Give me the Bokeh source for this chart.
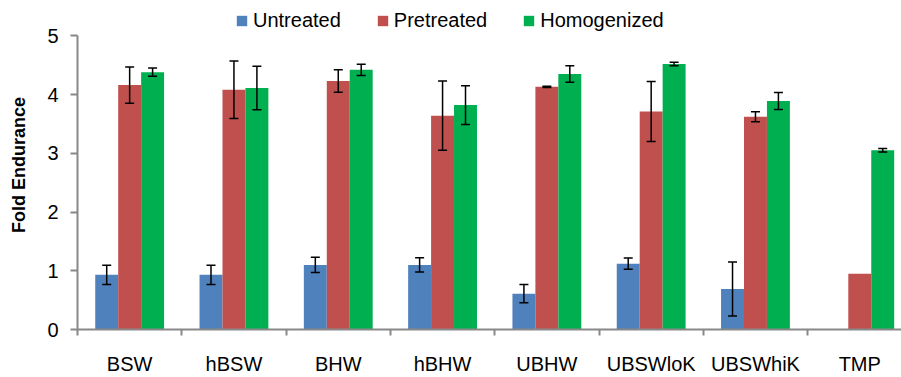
from bokeh.plotting import figure
from bokeh.models import (ColumnDataSource, Range1d, FixedTicker, Legend, LegendItem,
                          Whisker, TeeHead)
from bokeh.transform import dodge
from bokeh.embed import file_html
from bokeh.resources import INLINE

categories = ["BSW", "hBSW", "BHW", "hBHW", "UBHW", "UBSWloK", "UBSWhiK", "TMP"]
series_names = ["Untreated", "Pretreated", "Homogenized"]
untreated = [0.93, 0.93, 1.10, 1.10, 0.61, 1.12, 0.69, 0.0]
untreated_err = [0.165, 0.165, 0.13, 0.12, 0.155, 0.095, 0.46, 0.0]
pretreated = [4.16, 4.08, 4.23, 3.64, 4.13, 3.71, 3.62, 0.95]
pretreated_err = [0.31, 0.49, 0.19, 0.59, 0.01, 0.51, 0.085, 0.0]
homogenized = [4.38, 4.11, 4.42, 3.82, 4.35, 4.52, 3.89, 3.05]
homogenized_err = [0.07, 0.37, 0.095, 0.33, 0.14, 0.03, 0.145, 0.03]
y_ticks = [0, 1, 2, 3, 4, 5]

colors = ["#4F81BD", "#C0504D", "#00B050"]
FONT = "Liberation Sans"
AXIS_COLOR = "#888888"

centers = [i + 0.5 for i in range(len(categories))]

# frame spans from the very top of the canvas; the y axis line is bounded to 0..5
p = figure(width=901, height=377, output_backend="svg", toolbar_location=None,
           x_range=Range1d(0, 7.9), y_range=Range1d(0, 5.6),
           min_border_left=77, min_border_right=0, min_border_top=0,
           min_border_bottom=46)
p.outline_line_color = None
p.xgrid.grid_line_color = None
p.ygrid.grid_line_color = None
p.background_fill_color = "white"
p.border_fill_color = "white"

offsets = [-0.22, 0.0, 0.22]
vals = [untreated, pretreated, homogenized]
errs = [untreated_err, pretreated_err, homogenized_err]
items = []
for name, v, e, off, c in zip(series_names, vals, errs, offsets, colors):
    src = ColumnDataSource(dict(x=centers, top=v))
    r = p.vbar(x=dodge("x", off, range=p.x_range), top="top", width=0.22,
               source=src, fill_color=c, line_color=None)
    items.append(LegendItem(label=name, renderers=[r]))
    xs, lo, hi = [], [], []
    for cx, vv, ee in zip(centers, v, e):
        if ee > 0:
            xs.append(cx + off)
            lo.append(vv - ee)
            hi.append(vv + ee)
    wsrc = ColumnDataSource(dict(base=xs, lower=lo, upper=hi))
    w = Whisker(base="base", lower="lower", upper="upper", source=wsrc,
                level="overlay",
                line_color="black", line_width=1.5,
                upper_head=TeeHead(size=9, line_color="black", line_width=1.5),
                lower_head=TeeHead(size=9, line_color="black", line_width=1.5))
    p.add_layout(w)

# x axis
xa = p.xaxis[0]
xa.ticker = FixedTicker(ticks=centers, minor_ticks=list(range(0, 9)))
xa.major_label_overrides = {c: n for c, n in zip(centers, categories)}
xa.major_tick_out = 0
xa.major_tick_in = 0
xa.minor_tick_out = 6
xa.minor_tick_in = 0
xa.minor_tick_line_color = AXIS_COLOR
xa.minor_tick_line_width = 2
xa.axis_line_color = AXIS_COLOR
xa.axis_line_width = 2
xa.major_label_text_font = FONT
xa.major_label_text_font_size = "20px"
xa.major_label_text_color = "black"
xa.major_label_standoff = 17

# y axis
ya = p.yaxis[0]
ya.ticker = FixedTicker(ticks=y_ticks, minor_ticks=[])
ya.bounds = (0, 5)
ya.major_tick_out = 7
ya.major_tick_in = 0
ya.major_tick_line_color = AXIS_COLOR
ya.major_tick_line_width = 2
ya.axis_line_color = AXIS_COLOR
ya.axis_line_width = 2
ya.major_label_text_font = FONT
ya.major_label_text_font_size = "20px"
ya.major_label_text_color = "black"
ya.major_label_standoff = 12
ya.axis_label = "Fold Endurance"
ya.axis_label_text_font = FONT
ya.axis_label_text_font_size = "18px"
ya.axis_label_text_font_style = "bold"
ya.axis_label_text_color = "black"
ya.axis_label_standoff = 15

legend = Legend(items=items, orientation="horizontal", location=(158, 297),
                label_text_font=FONT, label_text_font_size="20px",
                label_text_color="black", glyph_width=13, glyph_height=13,
                label_standoff=5, spacing=35, padding=2, margin=0,
                border_line_color=None, background_fill_alpha=0)
p.add_layout(legend)

open("out.html", "w").write(file_html(p, INLINE))
